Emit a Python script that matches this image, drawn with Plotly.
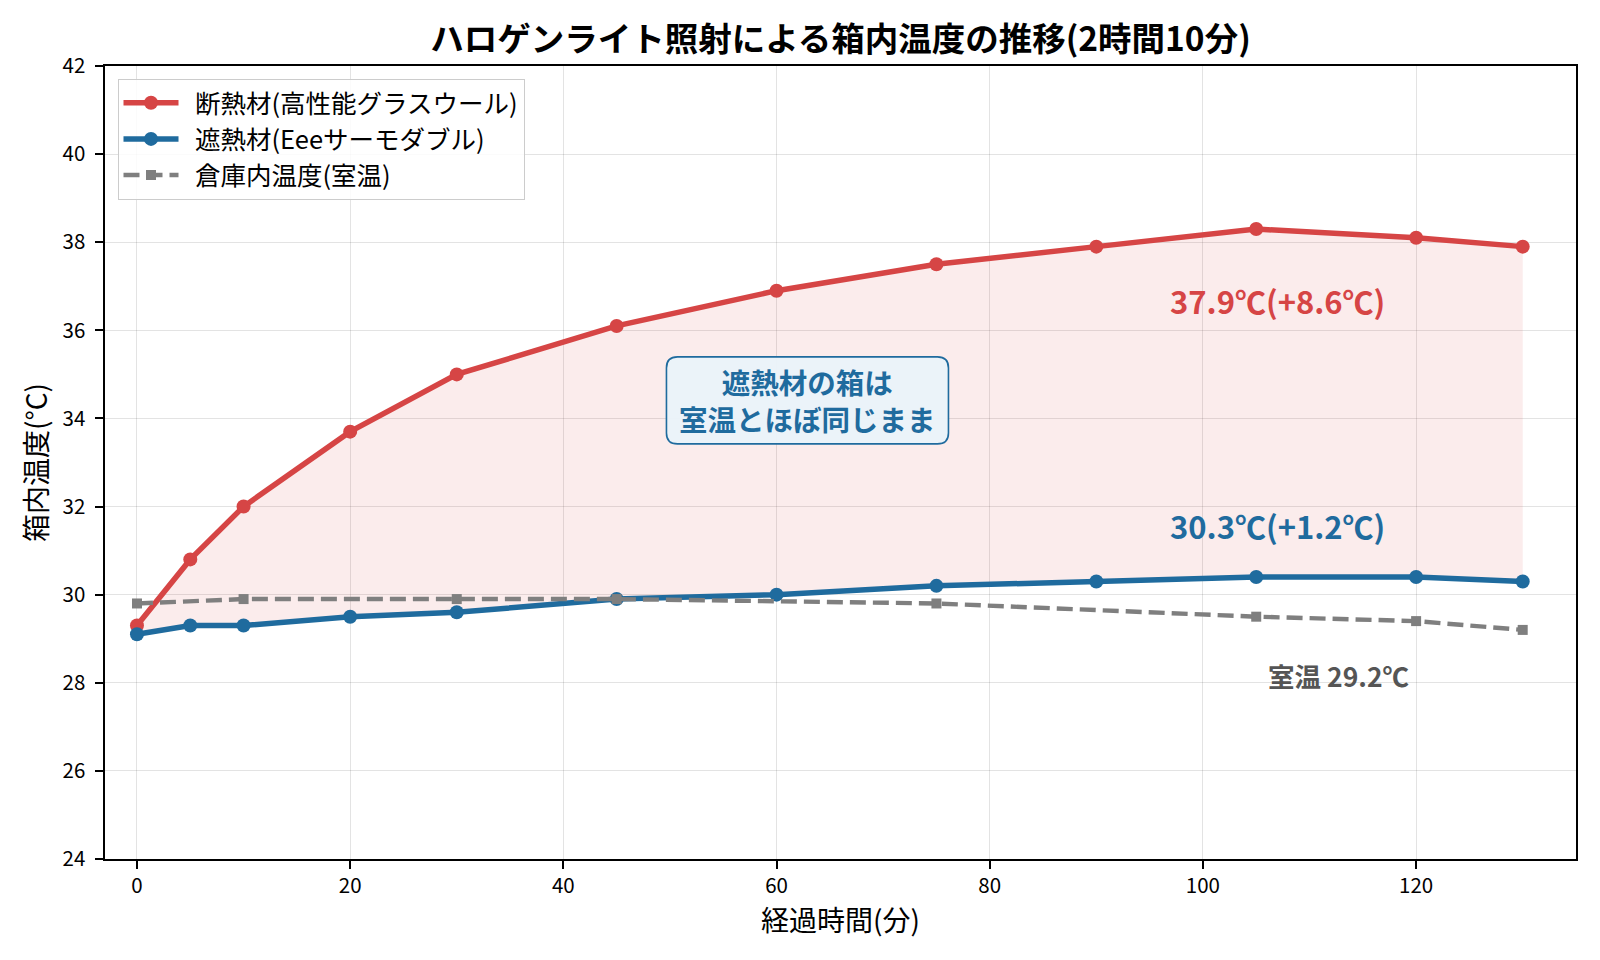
import plotly.graph_objects as go

# ---- data ----
minutes = [0, 5, 10, 20, 30, 45, 60, 75, 90, 105, 120, 130]
insulation_temp = [29.3, 30.8, 32.0, 33.7, 35.0, 36.1, 36.9, 37.5, 37.9, 38.3, 38.1, 37.9]
shield_temp = [29.1, 29.3, 29.3, 29.5, 29.6, 29.9, 30.0, 30.2, 30.3, 30.4, 30.4, 30.3]
room_minutes = [0, 10, 30, 45, 75, 105, 120, 130]
room_temp = [29.8, 29.9, 29.9, 29.9, 29.8, 29.5, 29.4, 29.2]

x_ticks = [0, 20, 40, 60, 80, 100, 120]
y_ticks = [24, 26, 28, 30, 32, 34, 36, 38, 40, 42]

RED = "#d64545"
BLUE = "#1f6b9e"
GRAY = "#7f7f7f"
FONT = "Noto Sans CJK JP"

fig = go.Figure()

# fill between the two box curves
fig.add_trace(go.Scatter(x=minutes, y=shield_temp, mode="lines",
                         line=dict(width=0, color=BLUE), showlegend=False,
                         hoverinfo="skip"))
fig.add_trace(go.Scatter(x=minutes, y=insulation_temp, mode="lines",
                         line=dict(width=0, color=RED), fill="tonexty",
                         fillcolor="rgba(214,69,69,0.10)", showlegend=False,
                         hoverinfo="skip"))

fig.add_trace(go.Scatter(x=minutes, y=insulation_temp, mode="lines+markers",
                         name="  断熱材(高性能グラスウール)",
                         line=dict(color=RED, width=5.5),
                         marker=dict(color=RED, size=14, line=dict(width=0))))
fig.add_trace(go.Scatter(x=minutes, y=shield_temp, mode="lines+markers",
                         name="  遮熱材(Eeeサーモダブル)",
                         line=dict(color=BLUE, width=5.5),
                         marker=dict(color=BLUE, size=14, line=dict(width=0))))
fig.add_trace(go.Scatter(x=room_minutes, y=room_temp, mode="lines+markers",
                         name="  倉庫内温度(室温)",
                         line=dict(color=GRAY, width=4.4, dash="16px,7px"),
                         marker=dict(color=GRAY, size=10, symbol="square",
                                     line=dict(width=0))))

# note box (rounded) around the centre annotation
BOX_X, BOX_Y = 62.9, 34.41
w2, h2, r = 141, 43.5, 11
box_path = (f"M {-w2 + r},{-h2} L {w2 - r},{-h2} Q {w2},{-h2} {w2},{-h2 + r} "
            f"L {w2},{h2 - r} Q {w2},{h2} {w2 - r},{h2} L {-w2 + r},{h2} "
            f"Q {-w2},{h2} {-w2},{h2 - r} L {-w2},{-h2 + r} Q {-w2},{-h2} {-w2 + r},{-h2} Z")
fig.add_shape(type="path", xref="x", yref="y", xsizemode="pixel", ysizemode="pixel",
              xanchor=BOX_X, yanchor=BOX_Y, path=box_path,
              fillcolor="rgba(234,243,250,0.95)", line=dict(color=BLUE, width=1.6),
              layer="above")

# text annotations
fig.add_annotation(x=107, y=36.68, xref="x", yref="y",
                   text="<b>37.9℃(+8.6℃)</b>", showarrow=False,
                   font=dict(family=FONT, size=31, color=RED),
                   xanchor="center", yanchor="middle")
fig.add_annotation(x=107, y=31.58, xref="x", yref="y",
                   text="<b>30.3℃(+1.2℃)</b>", showarrow=False,
                   font=dict(family=FONT, size=31, color=BLUE),
                   xanchor="center", yanchor="middle")
fig.add_annotation(x=112.7, y=28.16, xref="x", yref="y",
                   text="<b>室温 29.2℃</b>", showarrow=False,
                   font=dict(family=FONT, size=26.5, color="#555555"),
                   xanchor="center", yanchor="middle")
fig.add_annotation(x=BOX_X, y=BOX_Y, xref="x", yref="y",
                   text="<b>遮熱材の箱は<br>室温とほぼ同じまま</b>",
                   showarrow=False, align="center",
                   font=dict(family=FONT, size=28.5, color=BLUE),
                   xanchor="center", yanchor="middle")

axis_common = dict(
    showline=True, linecolor="black", linewidth=1.8, mirror=True,
    ticks="outside", ticklen=7.7, tickwidth=1.8, tickcolor="black",
    showgrid=True, gridcolor="rgba(0,0,0,0.11)", gridwidth=1,
    zeroline=False, tickfont=dict(family=FONT, size=20.5, color="black"),
)

fig.update_xaxes(range=[-3, 135], tickvals=x_ticks,
                 title=dict(text="経過時間(分)", font=dict(family=FONT, size=28, color="black"),
                            standoff=8),
                 ticklabelstandoff=0, **axis_common)
fig.update_yaxes(range=[24, 42], tickvals=y_ticks,
                 title=dict(text="箱内温度(°C)", font=dict(family=FONT, size=28, color="black"),
                            standoff=7),
                 ticklabelstandoff=6, **axis_common)

fig.update_layout(
    width=1600, height=960,
    margin=dict(l=104.5, r=24, t=66, b=101, autoexpand=False),
    paper_bgcolor="white", plot_bgcolor="white",
    font=dict(family=FONT, color="black"),
    title=dict(text="<b>ハロゲンライト照射による箱内温度の推移(2時間10分)</b>",
               x=0.5, xref="paper", xanchor="center",
               y=1 - 39 / 960, yref="container", yanchor="middle",
               font=dict(family=FONT, size=33.5, color="black")),
    legend=dict(x=0.0085, y=0.984, xanchor="left", yanchor="top",
                bgcolor="rgba(255,255,255,0.85)", bordercolor="#cccccc",
                borderwidth=1, font=dict(family=FONT, size=25.5, color="black"),
                itemwidth=55, traceorder="normal"),
)

fig.write_html("out.html")
